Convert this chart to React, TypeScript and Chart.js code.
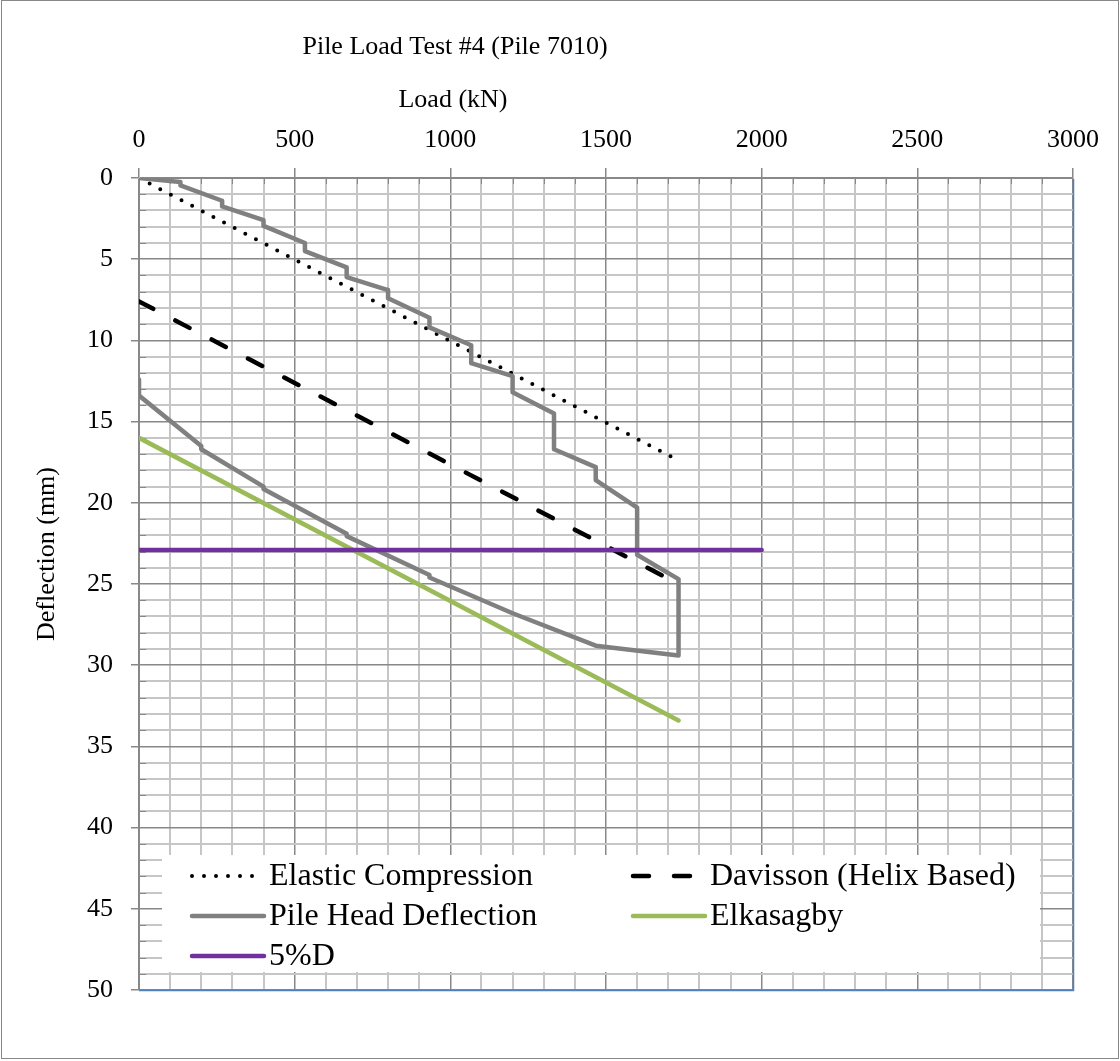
import React, { useEffect, useRef } from 'react';
import { Chart, registerables } from 'chart.js';

Chart.register(...registerables);

const FONT = '"Liberation Serif", "Times New Roman", serif';

// Measured pile head deflection (loading in steps, then unloading)
const pileLoad = [
  0, 133, 133, 267, 267, 400, 400, 533, 533, 667, 667, 800, 800, 933, 933,
  1067, 1067, 1200, 1200, 1333, 1333, 1467, 1467, 1600, 1600, 1733, 1733,
  1467, 1200, 933, 933, 667, 667, 400, 400, 200, 200, 0, 0,
];
const pileDeflection = [
  0, 0.25, 0.45, 1.4, 1.75, 2.6, 2.95, 4.0, 4.5, 5.5, 6.1, 6.9, 7.4, 8.6, 9.2,
  10.3, 11.4, 12.2, 13.2, 14.5, 16.7, 17.8, 18.6, 20.3, 23.2, 24.7, 29.4,
  28.8, 26.8, 24.6, 24.45, 22.05, 21.9, 19.15, 19.0, 16.7, 16.5, 13.4, 12.4,
];

// Elastic compression of the pile
const elasticLoad = [0, 1733];
const elasticDeflection = [0, 17.4];

// Davisson failure criterion (helix based)
const davissonLoad = [0, 1733];
const davissonDeflection = [7.6, 25.0];

// Elkasagby criterion
const elkasagbyLoad = [0, 1733];
const elkasagbyDeflection = [16.0, 33.4];

// 5% of helix diameter
const fivePctLoad = [0, 2000];
const fivePctDeflection = [22.9, 22.9];

const xMajorTicks = [0, 500, 1000, 1500, 2000, 2500, 3000];
const yMajorTicks = [0, 5, 10, 15, 20, 25, 30, 35, 40, 45, 50];

const MAJOR = '#888888';
const MINOR = '#c6c6c6';
const BLUE = '#4f81bd';

const toPoints = (xs: number[], ys: number[]) => xs.map((x, i) => ({ x, y: ys[i] }));

const chartDecor = {
  id: 'chartDecor',
  beforeDraw(chart: any) {
    const ctx = chart.ctx;
    ctx.save();
    ctx.fillStyle = '#ffffff';
    ctx.fillRect(0, 0, chart.width, chart.height);
    ctx.restore();
  },
  beforeDatasetsDraw(chart: any) {
    const { ctx, chartArea } = chart;
    const { left, right, top, bottom } = chartArea;
    const xs = chart.scales.x;
    const ys = chart.scales.y;
    ctx.save();
    // small inner tick marks for minor divisions
    ctx.strokeStyle = MAJOR;
    ctx.lineWidth = 1;
    for (let v = 100; v < 3000; v += 100) {
      if (v % 500 === 0) continue;
      const px = Math.round(xs.getPixelForValue(v)) + 0.5;
      ctx.beginPath();
      ctx.moveTo(px, top);
      ctx.lineTo(px, top + 6);
      ctx.stroke();
    }
    for (let v = 1; v < 50; v += 1) {
      if (v % 5 === 0) continue;
      const py = Math.round(ys.getPixelForValue(v)) + 0.5;
      ctx.beginPath();
      ctx.moveTo(left, py);
      ctx.lineTo(left + 7, py);
      ctx.stroke();
    }
    // right and bottom plot border
    ctx.strokeStyle = BLUE;
    ctx.lineWidth = 1.5;
    ctx.beginPath();
    ctx.moveTo(Math.round(right) + 0.5, top + 1);
    ctx.lineTo(Math.round(right) + 0.5, Math.round(bottom) + 0.5);
    ctx.lineTo(left, Math.round(bottom) + 0.5);
    ctx.stroke();
    ctx.restore();
  },
  afterDatasetsDraw(chart: any) {
    const { ctx, chartArea } = chart;
    const { left, bottom } = chartArea;
    ctx.save();
    // legend box inside the plot area
    const bx = left + 23;
    const by = bottom - 135;
    ctx.fillStyle = '#ffffff';
    ctx.fillRect(bx, by, 878, 117);

    const entries = [
      { idx: 0, col: 0, row: 0 },
      { idx: 1, col: 1, row: 0 },
      { idx: 2, col: 0, row: 1 },
      { idx: 3, col: 1, row: 1 },
      { idx: 4, col: 0, row: 2 },
    ];
    const colX = [left + 53, left + 494];
    const rowY = [by + 21, by + 61, by + 101];
    ctx.font = '32px ' + FONT;
    ctx.textBaseline = 'middle';
    ctx.textAlign = 'left';
    for (const e of entries) {
      const ds = chart.data.datasets[e.idx];
      const x0 = colX[e.col];
      const y0 = rowY[e.row];
      ctx.save();
      ctx.strokeStyle = ds.borderColor;
      ctx.lineWidth = ds.borderWidth;
      ctx.lineCap = ds.borderCapStyle || 'butt';
      ctx.setLineDash(ds.borderDash || []);
      ctx.beginPath();
      ctx.moveTo(x0, y0);
      ctx.lineTo(x0 + 72, y0);
      ctx.stroke();
      ctx.restore();
      ctx.fillStyle = '#000000';
      ctx.fillText(ds.label, x0 + 77, y0 + 1);
    }

    ctx.restore();
  },
  afterDraw(chart: any) {
    const { ctx } = chart;
    ctx.save();
    ctx.fillStyle = '#000000';
    ctx.textAlign = 'center';
    ctx.textBaseline = 'middle';
    ctx.font = '26px ' + FONT;
    ctx.fillText('Pile Load Test #4 (Pile 7010)', 455, 47);
    ctx.fillText('Load (kN)', 453, 100);
    ctx.save();
    ctx.translate(47, 554);
    ctx.rotate(-Math.PI / 2);
    ctx.fillText('Deflection (mm)', 0, 0);
    ctx.restore();
    // outer frame
    ctx.strokeStyle = MAJOR;
    ctx.lineWidth = 1;
    ctx.strokeRect(1.5, 0.5, chart.width - 3, chart.height - 3);
    ctx.restore();
  },
};

export default function App() {
  const canvasRef = useRef<HTMLCanvasElement | null>(null);

  useEffect(() => {
    document.body.style.margin = '0';
    const canvas = canvasRef.current;
    if (!canvas) return;
    const chart = new Chart(canvas, {
      type: 'line',
      data: {
        datasets: [
          {
            label: 'Elastic Compression',
            data: toPoints(elasticLoad, elasticDeflection),
            borderColor: '#000000',
            borderWidth: 4,
            borderDash: [0, 12],
            borderCapStyle: 'round',
            pointRadius: 0,
            order: 5,
          },
          {
            label: 'Davisson (Helix Based)',
            data: toPoints(davissonLoad, davissonDeflection),
            borderColor: '#000000',
            borderWidth: 4.5,
            borderDash: [16, 25],
            borderCapStyle: 'round',
            pointRadius: 0,
            order: 4,
          },
          {
            label: 'Pile Head Deflection',
            data: toPoints(pileLoad, pileDeflection),
            borderColor: '#808080',
            borderWidth: 4.5,
            borderCapStyle: 'round',
            borderJoinStyle: 'round',
            pointRadius: 0,
            order: 3,
          },
          {
            label: 'Elkasagby',
            data: toPoints(elkasagbyLoad, elkasagbyDeflection),
            borderColor: '#9bbb59',
            borderWidth: 4.5,
            borderCapStyle: 'round',
            pointRadius: 0,
            order: 2,
          },
          {
            label: '5%D',
            data: toPoints(fivePctLoad, fivePctDeflection),
            borderColor: '#7030a0',
            borderWidth: 4.5,
            borderCapStyle: 'round',
            pointRadius: 0,
            order: 1,
          },
        ],
      },
      options: {
        responsive: false,
        animation: false,
        layout: { padding: { left: 0, top: 0, right: 47, bottom: 71 } },
        plugins: {
          legend: { display: false },
          title: { display: false },
          tooltip: { enabled: false },
        },
        elements: { line: { tension: 0, fill: false } },
        scales: {
          x: {
            type: 'linear',
            position: 'top',
            min: 0,
            max: 3000,
            afterFit: (scale: any) => {
              scale.height = 178;
            },
            border: { display: true, color: MAJOR, width: 1 },
            grid: {
              color: (c: any) => (xMajorTicks.includes(c.tick?.value) ? MAJOR : MINOR),
              lineWidth: (c: any) => (xMajorTicks.includes(c.tick?.value) ? 1.5 : 2),
              tickColor: (c: any) => (xMajorTicks.includes(c.tick?.value) ? MAJOR : 'rgba(0,0,0,0)'),
              tickLength: 10,
            },
            ticks: {
              stepSize: 100,
              autoSkip: false,
              maxRotation: 0,
              padding: 12,
              color: '#000000',
              font: { family: FONT, size: 26 },
              callback: (v: any) => (xMajorTicks.includes(Number(v)) ? String(v) : ''),
            },
          },
          y: {
            type: 'linear',
            reverse: true,
            min: 0,
            max: 50,
            afterFit: (scale: any) => {
              scale.width = 139;
            },
            border: { display: true, color: MAJOR, width: 1 },
            grid: {
              color: (c: any) => (yMajorTicks.includes(c.tick?.value) ? MAJOR : MINOR),
              lineWidth: (c: any) => (yMajorTicks.includes(c.tick?.value) ? 1.5 : 2),
              tickColor: (c: any) => (yMajorTicks.includes(c.tick?.value) ? MAJOR : 'rgba(0,0,0,0)'),
              tickLength: 8,
            },
            ticks: {
              stepSize: 1,
              autoSkip: false,
              padding: 18,
              color: '#000000',
              font: { family: FONT, size: 26 },
              callback: (v: any) => (yMajorTicks.includes(Number(v)) ? String(v) : ''),
            },
          },
        },
      },
      plugins: [chartDecor],
    } as any);
    return () => chart.destroy();
  }, []);

  return (
    <div style={{ width: 1120, height: 1061 }}>
      <canvas ref={canvasRef} width={1120} height={1061} style={{ display: 'block', width: 1120, height: 1061 }} />
    </div>
  );
}
